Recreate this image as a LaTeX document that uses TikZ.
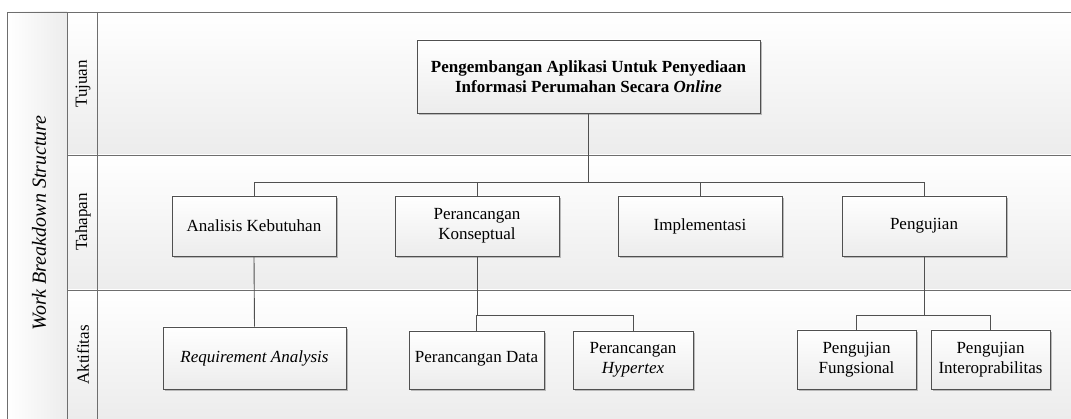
\documentclass[tikz,border=0pt]{standalone}
\usepackage{fontspec}
\setmainfont{Liberation Serif}
\usepackage{tikz}
\usetikzlibrary{positioning,shadows,calc}
\definecolor{lanegray}{RGB}{110,110,110}
\definecolor{boxline}{RGB}{80,80,80}
\definecolor{shadegray}{RGB}{236,236,236}
\tikzstyle{lane} = [draw=lanegray, line width=0.8pt]
\tikzstyle{lanetext} = [rotate=90, font=\fontsize{17}{20}\selectfont]
\tikzstyle{box} = [draw=boxline, line width=0.9pt, top color=white, bottom color=shadegray, inner sep=2pt, align=center, font=\fontsize{17}{20}\selectfont, general shadow={fill=gray!55, shadow xshift=2pt, shadow yshift=-2pt}]
\tikzstyle{link} = [draw=boxline, line width=0.9pt]

\begin{document}
\begin{tikzpicture}[x=1pt, y=-1pt]
        \useasboundingbox (0,0) rectangle (1071,419);
        % lanes
        \shade[left color=white, right color=shadegray] (7,12) rectangle (67,419);
        \shade[top color=white, bottom color=shadegray] (67,12) rectangle (1071,155);
        \shade[top color=white, bottom color=shadegray] (67,155) rectangle (1071,290);
        \shade[top color=white, bottom color=shadegray] (67,290) rectangle (1071,419);
        \draw[lane] (7,419) -- (7,12) -- (1071,12);
        \draw[lane] (67,12) -- (67,419);
        \draw[lane] (97,12) -- (97,419);
        \draw[lane] (67,155) -- (1071,155);
        \draw[lane] (67,290) -- (1071,290);
        \node[lanetext, font=\fontsize{20}{24}\selectfont\itshape] (wbs) at (39,223) {Work Breakdown Structure};
        \node[lanetext] (tujuan) at (83,84) {Tujuan};
        \node[lanetext] (tahapan) at (83,222) {Tahapan};
        \node[lanetext] (aktifitas) at (83,355) {Aktifitas};
        % tujuan
        \node[box, minimum width=343pt, minimum height=73pt, font=\fontsize{17}{20}\selectfont\bfseries] (goal) at (588.5,76.5) {Pengembangan Aplikasi Untuk Penyediaan\\Informasi Perumahan Secara \textit{Online}};
        % tahapan
        \node[box, minimum width=164pt, minimum height=60pt] (analisis) at (254,226) {Analisis Kebutuhan};
        \node[box, minimum width=164pt, minimum height=60pt] (konsep) at (477,226) {Perancangan\\Konseptual};
        \node[box, minimum width=164pt, minimum height=60pt] (impl) at (700,226) {Implementasi};
        \node[box, minimum width=164pt, minimum height=60pt] (uji) at (924,226) {Pengujian};
        % aktifitas
        \node[box, minimum width=183pt, minimum height=62pt, font=\fontsize{17}{20}\selectfont\itshape] (req) at (254.5,358) {Requirement Analysis};
        \node[box, minimum width=135pt, minimum height=58pt] (data) at (476.5,360) {\raisebox{6pt}{Perancangan Data}};
        \node[box, minimum width=120pt, minimum height=58pt] (hyper) at (633,360) {Perancangan\\\textit{Hypertex}};
        \node[box, minimum width=119pt, minimum height=59pt] (fungsi) at (856.5,359.5) {Pengujian\\Fungsional};
        \node[box, minimum width=119pt, minimum height=59pt] (intero) at (990.5,359.5) {Pengujian\\Interoprabilitas};
        % connectors
        \coordinate (busA) at (0,182);
        \coordinate (busB) at (0,315);
        \foreach \p in {analisis,konsep,impl,uji}
            \draw[link] (goal.south) -- (goal.south |- busA) -| (\p.north);
        \draw[link] (analisis.south) -- (req.north);
        \foreach \p in {data,hyper}
            \draw[link] (konsep.south) -- (konsep.south |- busB) -| (\p.north);
        \foreach \p in {fungsi,intero}
            \draw[link] (uji.south) -- (uji.south |- busB) -| (\p.north);
        \end{tikzpicture}
\end{document}
